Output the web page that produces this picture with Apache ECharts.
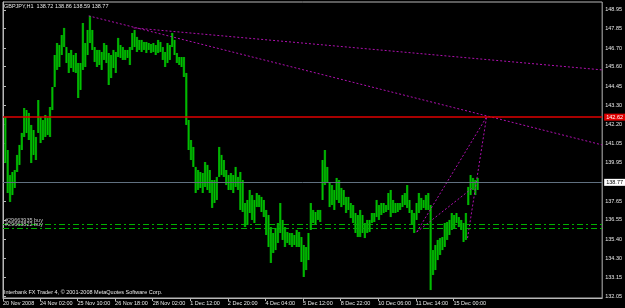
<!DOCTYPE html>
<html><head><meta charset="utf-8">
<script src="https://cdn.jsdelivr.net/npm/echarts@6/dist/echarts.min.js"></script>
<style>html,body{margin:0;padding:0;background:#000;}#c{width:625px;height:308px;}</style>
</head><body><div id="c"></div>
<script>
const headerText = 'GBPJPY,H1  138.72 138.86 138.59 138.77';
const footerText = 'Interbank FX Trader 4, \u00a9 2001-2008 MetaQuotes Software Corp.';
const xTickLabels = ['20 Nov 2008','24 Nov 02:00','25 Nov 10:00','26 Nov 18:00','28 Nov 02:00','1 Dec 12:00','2 Dec 20:00','4 Dec 04:00','5 Dec 12:00','8 Dec 22:00','10 Dec 06:00','11 Dec 14:00','15 Dec 00:00'];
const xTickSlots = [0,15.7,31.7,47.7,63.7,79.7,95.7,111.7,127.7,143.7,159.7,175.7,191.7];
const yTickLabels = ['148.95','147.85','146.70','145.60','144.45','143.30','142.20','141.05','139.95','137.65','136.55','135.40','134.30','133.15','132.05'];
const highs = [142.63,140.68,139.20,139.38,139.50,140.39,140.98,141.69,143.16,143.04,142.87,142.16,141.86,141.45,143.63,142.63,142.45,142.75,142.57,143.22,
144.40,146.29,147.00,146.88,147.47,147.89,146.76,146.41,146.59,146.29,146.41,145.82,145.82,148.18,147.00,147.77,148.60,147.77,146.76,146.59,
146.59,146.47,147.00,146.88,146.41,146.29,146.59,146.47,147.30,146.88,146.76,146.59,146.59,146.76,147.59,147.77,147.36,147.18,147.18,147.06,
147.06,147.00,146.94,147.00,146.88,147.18,147.06,146.76,146.47,147.00,146.88,147.59,147.18,146.41,146.17,146.17,146.17,145.23,142.45,141.27,
140.86,139.68,139.50,139.38,139.32,139.97,139.80,139.50,138.91,138.91,139.09,140.86,140.39,140.09,139.50,139.20,139.32,139.20,139.68,139.09,
139.38,138.91,137.55,137.73,138.32,138.02,137.73,138.14,138.02,137.91,137.73,137.14,136.84,136.13,135.78,136.07,136.37,137.55,136.55,136.13,
135.84,135.78,135.78,135.66,135.96,135.84,135.54,135.07,134.95,135.78,137.55,137.14,137.02,137.14,137.14,140.09,140.68,139.68,138.73,138.61,
138.32,139.03,138.91,138.44,138.32,137.91,137.91,137.55,137.43,136.96,136.84,137.14,136.84,136.37,136.55,136.55,136.96,136.96,137.73,137.43,
137.55,137.55,137.43,138.14,138.32,137.73,137.55,137.55,137.55,138.02,138.14,138.61,137.73,137.14,136.96,137.55,138.14,137.85,137.73,138.02,
138.14,137.43,134.77,135.07,135.37,135.48,135.54,136.37,136.43,136.55,136.96,136.84,136.96,136.72,136.55,136.37,136.96,138.50,139.20,139.03,
138.91,139.03];
const lows = [139.91,138.14,137.61,138.02,138.44,139.38,139.80,140.68,141.45,141.69,141.27,139.91,140.39,140.09,141.69,141.09,141.27,141.45,141.57,141.45,
143.04,144.40,145.41,145.58,146.29,146.76,145.82,145.23,145.52,145.29,145.23,143.75,144.23,145.41,145.58,146.29,147.00,146.59,145.88,145.58,
145.70,145.41,146.00,145.82,144.52,144.93,145.52,145.23,146.17,146.12,146.00,146.00,146.12,145.70,146.59,146.76,146.47,146.59,146.47,146.59,
146.41,146.59,146.41,146.47,146.29,146.41,146.47,146.00,145.58,145.82,146.00,146.76,146.29,145.82,145.70,145.58,144.99,142.16,140.68,140.09,
139.68,138.14,138.32,138.44,138.14,138.50,138.32,138.14,137.26,137.55,137.73,139.09,139.20,139.09,138.61,138.32,138.32,138.14,138.50,138.32,
137.14,137.02,136.13,136.25,136.96,136.55,136.37,137.31,137.31,137.02,136.72,135.66,134.95,134.01,134.60,134.77,135.19,135.78,135.37,134.95,
135.19,135.07,134.95,135.07,134.95,134.95,134.07,133.18,133.59,134.18,135.96,136.37,136.25,136.55,136.43,137.73,138.61,138.73,137.31,137.43,
137.14,137.73,137.55,137.31,137.43,136.96,137.14,136.66,136.37,135.78,135.54,135.54,135.78,135.48,135.78,135.84,136.37,136.43,136.72,136.55,
136.84,136.96,137.02,137.14,136.72,136.96,136.96,137.02,137.14,137.31,137.43,137.26,136.96,136.25,135.78,136.55,136.96,137.14,137.26,137.14,
137.14,132.41,133.30,133.59,134.18,134.48,134.77,134.95,135.37,135.66,135.96,136.07,136.37,136.13,135.96,135.25,135.37,137.43,138.02,138.32,
138.02,138.32];
const resistancePrice = 142.62;
const lastPrice = 138.77;
const orderNames = ['#29663935 buy','#29663822 buy'];
const orderPrices = [136.29, 136.05];
const trendLines = [
  [[36.5,148.60],[255,140.98]],
  [[55.6,147.89],[255,145.41]],
  [[176.1,135.84],[205.8,142.63]],
  [[176.1,135.84],[199.8,138.44]],
  [[197.7,135.48],[205.8,142.63]]
];
const xMax = 255, yMin = 131.94, yMax = 149.42;

const FONT = 'Liberation Sans';
const barData = highs.map((h,i)=>[i+1, h, lows[i]]);
const chart = echarts.init(document.getElementById('c'), null, {renderer:'canvas'});
const series = [{
  type:'custom', silent:true, data:barData, z:2,
  renderItem:(params, api)=>{
    const x = api.value(0), hi = api.value(1), lo = api.value(2);
    const p1 = api.coord([x,hi]), p2 = api.coord([x,lo]);
    const w = api.size([1,0])[0];
    return {type:'group', children:[
      {type:'rect', shape:{x:p1[0]-w*0.5, y:p1[1], width:w, height:Math.max(1,p2[1]-p1[1])}, style:{fill:'#009000'}},
      {type:'rect', shape:{x:p1[0]-0.5, y:p1[1], width:1, height:Math.max(1,p2[1]-p1[1])}, style:{fill:'#00c400'}}
    ]};
  },
  markLine:{
    silent:true, symbol:'none', animation:false,
    data:[
      {yAxis:resistancePrice, lineStyle:{color:'#e00000', width:1.6, type:'solid'},
       label:{show:true, position:'end', distance:2, formatter:resistancePrice.toFixed(2), backgroundColor:'#e00000', color:'#ffffff', padding:[1,2,0,2], fontSize:5.5, fontFamily:FONT}},
      {yAxis:lastPrice, lineStyle:{color:'#607080', width:1, type:'solid'},
       label:{show:true, position:'end', distance:2, formatter:lastPrice.toFixed(2), backgroundColor:'#ffffff', color:'#000000', padding:[1,2,0,2], fontSize:5.5, fontFamily:FONT}},
      ...orderNames.map((n,i)=>({yAxis:orderPrices[i], lineStyle:{color:'#00b000', width:1, type:[6,3,2,3]},
       label:{show:true, position:'insideStartTop', distance:[2,1], formatter:n, color:'#c8c8c8', fontSize:5.5, fontFamily:FONT}}))
    ]
  }
}];
trendLines.forEach(t=>series.push({type:'line', data:t, symbol:'none', silent:true, z:3,
  lineStyle:{color:'#b010b0', width:1, type:[2,2]}}));

chart.setOption({
  backgroundColor:'#000000',
  animation:false,
  grid:{left:2, right:22, top:2, bottom:10, show:true, borderColor:'#b8b8b8', borderWidth:1, backgroundColor:'transparent'},
  xAxis:{type:'value', min:0, max:xMax,
    axisLine:{show:true, lineStyle:{color:'#b8b8b8'}},
    axisTick:{show:true, length:3, lineStyle:{color:'#b8b8b8'}, customValues:xTickSlots},
    axisLabel:{show:true, customValues:xTickSlots, align:'left', margin:2, color:'#e8e8e8', fontSize:5.5, fontFamily:FONT,
      formatter:(v)=>{const i=xTickSlots.indexOf(v); return i>=0?xTickLabels[i]:'';}},
    splitLine:{show:false}},
  yAxis:{type:'value', position:'right', min:yMin, max:yMax, scale:true,
    axisLine:{show:true, lineStyle:{color:'#b8b8b8'}},
    axisTick:{show:true, length:3, lineStyle:{color:'#b8b8b8'}, customValues:yTickLabels.map(Number)},
    axisLabel:{show:true, customValues:yTickLabels.map(Number), margin:3, color:'#e8e8e8', fontSize:5.5, fontFamily:FONT,
      formatter:(v)=>{const i=yTickLabels.map(Number).indexOf(v); return i>=0?yTickLabels[i]:'';}},
    splitLine:{show:false}},
  graphic:[
    {type:'text', left:4, top:3, style:{text:headerText, fill:'#e8e8e8', font:'5.5px "'+FONT+'"'}},
    {type:'text', left:4, top:289, style:{text:footerText, fill:'#e8e8e8', font:'5.5px "'+FONT+'"'}}
  ],
  series
});
</script></body></html>
